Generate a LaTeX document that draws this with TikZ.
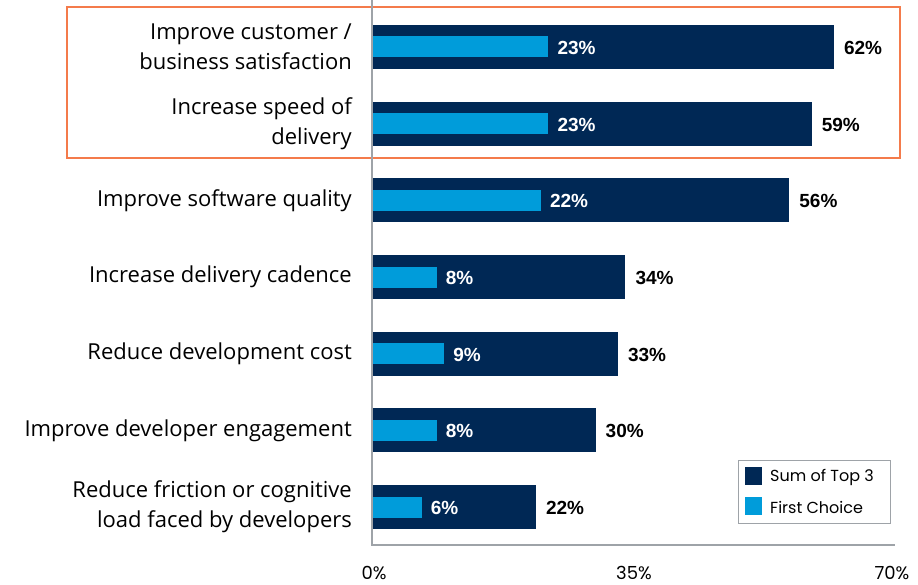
\documentclass[tikz,border=0pt]{standalone}
\usepackage{fontspec}
\setmainfont{Open Sans}
\newfontfamily\valfont{Liberation Sans}
\newfontfamily\legfont{Poppins}
\definecolor{topthree}{HTML}{002855}
\definecolor{firstch}{HTML}{009CDA}
\definecolor{boxorange}{HTML}{F47B4B}
\definecolor{axisgray}{HTML}{9EA3A8}

\begin{document}
\begin{tikzpicture}[x=1pt, y=-1pt,
    catlabel/.style={anchor=east, align=right, font=\fontsize{22}{30}\selectfont, inner sep=0pt},
    inval/.style={anchor=west, text=white, font=\valfont\bfseries\fontsize{19}{20}\selectfont, inner sep=0pt},
    outval/.style={anchor=west, text=black, font=\valfont\bfseries\fontsize{19}{20}\selectfont, inner sep=0pt},
    ticklabel/.style={font=\legfont\fontsize{18}{20}\selectfont, inner sep=0pt},
    legtext/.style={anchor=west, font=\legfont\fontsize{16}{20}\selectfont, inner sep=0pt}]
    \useasboundingbox (0,0) rectangle (918,585);

    % highlight box
    \draw[boxorange, line width=1.6pt] (67,7) rectangle (900,158);

    % axes
    \draw[axisgray, line width=1.2pt] (372,0) -- (372,545) -- (895,545);
    \node[ticklabel] (t0) at (374,573) {0\%};
    \node[ticklabel] (t35) at (634,573) {35\%};
    \node[ticklabel] (t70) at (892,573) {70\%};

    % bars
    \foreach \i/\lab/\top/\first in {
        1/{Improve customer /\\business satisfaction}/62/23,
        2/{Increase speed of\\delivery}/59/23,
        3/{Improve software quality}/56/22,
        4/{Increase delivery cadence}/34/8,
        5/{Reduce development cost}/33/9,
        6/{Improve developer engagement}/30/8,
        7/{Reduce friction or cognitive\\load faced by developers}/22/6} {
        \pgfmathsetmacro{\yc}{47+76.67*(\i-1)}
        \pgfmathsetmacro{\xt}{372+7.45*\top}
        \pgfmathsetmacro{\xf}{372+7.45*\first+5}
        \fill[topthree] (373,\yc-22) rectangle (\xt,\yc+22);
        \fill[firstch] (373,\yc-10.5) rectangle (\xf,\yc+10.5);
        \node[catlabel] (cat \i) at (352,\yc) {\lab};
        \node[inval] (first \i) at (\xf+9,\yc+1) {\first\%};
        \node[outval] (top \i) at (\xt+10,\yc+1) {\top\%};
    }

    % legend
    \draw[axisgray, line width=0.8pt] (738,460) rectangle (890,523);
    \fill[topthree] (745,467) rectangle (762,485);
    \fill[firstch] (745,497) rectangle (762,515);
    \node[legtext] (leg top) at (770,477) {Sum of Top 3};
    \node[legtext] (leg first) at (770,507) {First Choice};
\end{tikzpicture}
\end{document}
